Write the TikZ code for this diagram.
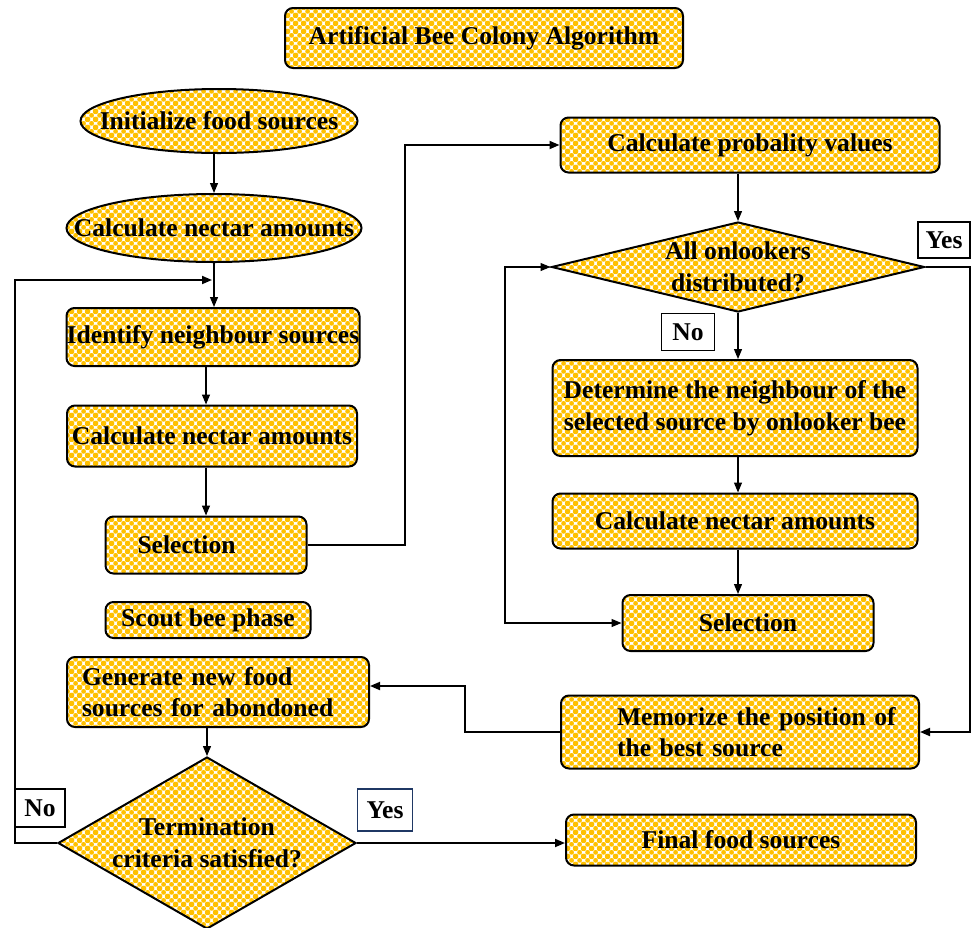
\documentclass[tikz,border=0pt]{standalone}
\usepackage{fontspec}
\setmainfont{Liberation Serif}
\usepackage{xcolor}
\usetikzlibrary{calc,arrows.meta,shapes.geometric,patterns}
\definecolor{beegold}{HTML}{FFC000}
\definecolor{tagnavy}{HTML}{1F3864}
\newcommand{\flowfont}{\bfseries\fontsize{12.8}{15.8}\selectfont}
\pgfdeclarepatternformonly{honeycheck}{\pgfpointorigin}{\pgfpoint{4pt}{4pt}}{\pgfpoint{4pt}{4pt}}{%
  \pgfpathrectangle{\pgfpoint{1pt}{1pt}}{\pgfpoint{2pt}{2pt}}\pgfusepath{fill}
  \pgfpathcircle{\pgfpoint{2pt}{2pt}}{1.3pt}\pgfusepath{fill}
  \pgfpathcircle{\pgfpointorigin}{1.3pt}\pgfusepath{fill}
  \pgfpathcircle{\pgfpoint{4pt}{0pt}}{1.3pt}\pgfusepath{fill}
  \pgfpathcircle{\pgfpoint{0pt}{4pt}}{1.3pt}\pgfusepath{fill}
  \pgfpathcircle{\pgfpoint{4pt}{4pt}}{1.3pt}\pgfusepath{fill}
}
\tikzset{
  stepbox/.style  = {rectangle, rounded corners=4pt, draw, line width=1pt,
                     pattern=honeycheck, pattern color=beegold, inner sep=0pt,
                     align=center, font=\flowfont},
  ovalbox/.style  = {ellipse, draw, line width=1pt, pattern=honeycheck,
                     pattern color=beegold, inner sep=0pt, font=\flowfont},
  decision/.style = {diamond, draw, line width=1pt, pattern=honeycheck,
                     pattern color=beegold, inner sep=0pt, align=center,
                     font=\flowfont},
  tagbox/.style   = {rectangle, draw, line width=0.9pt, fill=white,
                     inner sep=0pt, font=\flowfont},
  conn/.style     = {-{Triangle[length=5pt,width=4pt]}, line width=0.6pt},
  link/.style     = {-{Triangle[length=5pt,width=4pt]}, line width=0.9pt},
}

\begin{document}
\begin{tikzpicture}[x=0.5pt, y=-0.5pt]
\useasboundingbox (0,0) rectangle (975,927);
% title
\node[stepbox, minimum width=199pt, minimum height=30pt] (title) at (484,38) {Artificial Bee Colony Algorithm};
% employed bees
\node[ovalbox, minimum width=138.5pt, minimum height=32pt] (init) at (219,121) {\makebox[0pt]{Initialize food sources}};
\node[ovalbox, minimum width=147.5pt, minimum height=34pt] (nect1) at (214,228) {\makebox[0pt]{Calculate nectar amounts}};
\node[stepbox, minimum width=146.5pt, minimum height=29pt] (ident) at (213,337) {Identify neighbour sources};
\node[stepbox, minimum width=145pt, minimum height=30.5pt] (calc1) at (212,436) {Calculate nectar amounts};
\node[stepbox, align=left, text width=68.5pt, inner xsep=16pt, minimum height=28.5pt] (sel1) at (206,545) {Selection};
% scout bees
\node[stepbox, minimum width=102.5pt, minimum height=18pt] (scout) at (208,620) {Scout bee phase};
\node[stepbox, align=left, text width=136pt, inner xsep=7.5pt, minimum height=35pt] (gen) at (218,692) {Generate new food\\sources for abondoned};
\node[decision, minimum width=149pt, minimum height=86pt, aspect=1.7] (term) at (207,843) {Termination\\criteria satisfied?};
\node[stepbox, minimum width=175pt, minimum height=25.5pt] (final) at (741,840) {Final food sources};
% onlooker bees
\node[stepbox, minimum width=189.5pt, minimum height=27.5pt] (prob) at (750,145) {Calculate probality values};
\node[decision, minimum width=186.5pt, minimum height=45pt, aspect=4] (dist) at (738,267) {All onlookers\\distributed?};
\node[stepbox, minimum width=182.5pt, minimum height=48pt] (det) at (735,408) {Determine the neighbour of the\\selected source by onlooker bee};
\node[stepbox, minimum width=182.5pt, minimum height=27.5pt] (calc2) at (735,521) {Calculate nectar amounts};
\node[stepbox, minimum width=125.5pt, minimum height=28pt] (sel2) at (748,623) {Selection};
\node[stepbox, align=left, text width=123pt, inner xsep=28pt, minimum height=36.5pt] (mem) at (740,732) {\mbox{Memorize the position of}\\the best source};
% yes / no tags
\node[tagbox, minimum width=26pt, minimum height=18pt] (yes1) at (944,240) {Yes};
\node[tagbox, minimum width=26.5pt, minimum height=18.5pt] (no1) at (688,332) {No};
\node[tagbox, minimum width=25pt, minimum height=19pt] (no2) at (40,808) {No};
\node[tagbox, draw=tagnavy, minimum width=27.5pt, minimum height=21pt] (yes2) at (385,810) {Yes};
% bends
\coordinate (loopin) at (212,280);
\coordinate (bend1) at (405,145);
\coordinate (bend2) at (505,623);
\coordinate (bend3) at (970,267);
\coordinate (bend5) at (465,686);
\coordinate (bend6) at (15,280);
% connectors
\draw[conn] (init.south -| nect1) -- (nect1.north);
\draw[conn] (nect1.south) -- (nect1.south |- ident.north);
\draw[conn] (ident.south -| sel1) -- (calc1.north -| sel1);
\draw[conn] (calc1.south -| sel1) -- (sel1.north);
\draw[link] (sel1.east) -| (bend1) -- (prob.west);
\draw[conn] (prob.south -| dist) -- (dist.north);
\draw[conn] (dist.south) -- (det.north -| dist);
\draw[conn] (det.south -| dist) -- (calc2.north -| dist);
\draw[conn] (calc2.south -| dist) -- (sel2.north -| dist);
\draw[conn, {Triangle[length=5pt,width=4pt]}-{Triangle[length=5pt,width=4pt]}] (sel2.west) -- (bend2) |- (dist.west);
\draw[link] (dist.east) -- (bend3) |- (mem.east);
\draw[link] (mem.west) -| (bend5) -- (bend5 -| gen.east);
\draw[conn] (gen.south -| term) -- (term.north);
\draw[link] (term.east) -- (term.east -| final.west);
\draw[link] (term.west) -| (bend6) -- (loopin);
\end{tikzpicture}
\end{document}
